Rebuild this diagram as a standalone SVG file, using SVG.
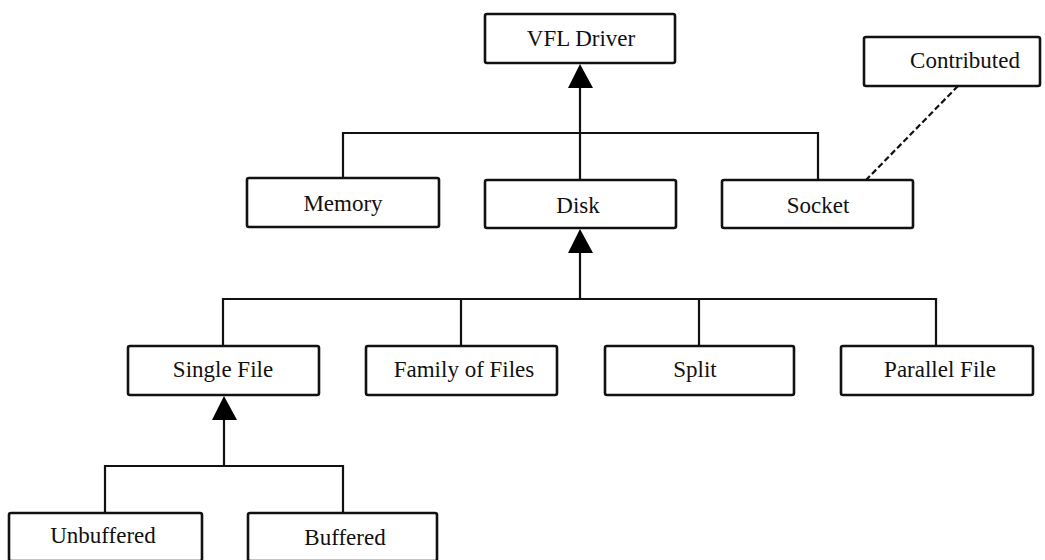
<svg xmlns="http://www.w3.org/2000/svg" width="1045" height="560" viewBox="0 0 1045 560">
<style>
.box{fill:#fff;stroke:#111;stroke-width:2.6}
.lbl{font-family:"Liberation Serif","Times New Roman",serif;font-size:23px;fill:#111;text-anchor:middle}
.ln{fill:none;stroke:#111;stroke-width:2.2}
.dash{fill:none;stroke:#111;stroke-width:2.2;stroke-dasharray:6,3}
.arr{fill:#000}
</style>
<rect width="1045" height="560" fill="#fff"/>
<g id="connectors">
<path class="ln" d="M580,86 V180 M343,178 V133 H818 V180"/>
<polygon class="arr" points="580,64 568,88 593,88"/>
<path class="dash" d="M958,86 L866,180"/>
<path class="ln" d="M580,252 V299 M223,346 V299 H936 V346 M461,299 V346 M699,299 V346"/>
<polygon class="arr" points="580,229 568,253 593,253"/>
<path class="ln" d="M224,418 V466 M105,513 V466 H343 V513"/>
<polygon class="arr" points="224,396 212,420 237,420"/>
</g>
<g id="vfl"><rect class="box" x="485" y="14" width="190" height="49" rx="2"/><text class="lbl" x="581" y="46">VFL Driver</text></g>
<g id="contributed"><rect class="box" x="864" y="37" width="176" height="49" rx="2"/><text class="lbl" x="965" y="68">Contributed</text></g>
<g id="memory"><rect class="box" x="247" y="178" width="192" height="49" rx="2"/><text class="lbl" x="343" y="211">Memory</text></g>
<g id="disk"><rect class="box" x="485" y="180" width="191" height="48" rx="2"/><text class="lbl" x="578" y="213">Disk</text></g>
<g id="socket"><rect class="box" x="722" y="180" width="191" height="48" rx="2"/><text class="lbl" x="818" y="213">Socket</text></g>
<g id="singlefile"><rect class="box" x="128" y="346" width="191" height="49" rx="2"/><text class="lbl" x="223" y="377">Single File</text></g>
<g id="family"><rect class="box" x="366" y="346" width="191" height="49" rx="2"/><text class="lbl" x="464" y="377">Family of Files</text></g>
<g id="split"><rect class="box" x="605" y="346" width="189" height="49" rx="2"/><text class="lbl" x="695" y="377">Split</text></g>
<g id="parallel"><rect class="box" x="841" y="346" width="192" height="49" rx="2"/><text class="lbl" x="940" y="377">Parallel File</text></g>
<g id="unbuffered"><rect class="box" x="9" y="513" width="193" height="48" rx="2"/><text class="lbl" x="103" y="543">Unbuffered</text></g>
<g id="buffered"><rect class="box" x="248" y="513" width="189" height="48" rx="2"/><text class="lbl" x="345" y="545">Buffered</text></g>
</svg>
